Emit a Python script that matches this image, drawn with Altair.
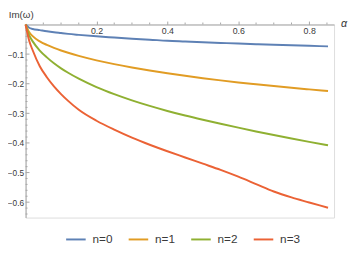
import altair as alt
import pandas as pd

# ---- data ----
alpha = [0, 0.01, 0.02, 0.04, 0.06, 0.08, 0.1, 0.12, 0.15, 0.2, 0.25, 0.3, 0.35,
         0.4, 0.45, 0.5, 0.55, 0.6, 0.65, 0.7, 0.75, 0.8, 0.853]
n0 = [0, -0.011, -0.015, -0.019, -0.023, -0.0263, -0.029, -0.0317, -0.035, -0.040, -0.044,
      -0.0478, -0.0512, -0.055, -0.0575, -0.060, -0.0622, -0.0644, -0.0664, -0.0684, -0.0703,
      -0.0721, -0.0739]
n1 = [0, -0.0252, -0.0395, -0.057, -0.069, -0.0789, -0.0877, -0.0955, -0.106, -0.121, -0.1338,
      -0.145, -0.1551, -0.1645, -0.1733, -0.1813, -0.1887, -0.1956, -0.2019, -0.208, -0.2137,
      -0.2191, -0.2247]
n2 = [0, -0.036, -0.057, -0.088, -0.111, -0.131, -0.148, -0.163, -0.183, -0.2113, -0.2352,
      -0.2562, -0.275, -0.292, -0.3075, -0.3217, -0.3352, -0.3483, -0.3611, -0.3733, -0.3851,
      -0.3964, -0.408]
n3 = [0, -0.054, -0.087, -0.141, -0.178, -0.209, -0.235, -0.258, -0.288, -0.325, -0.355,
      -0.382, -0.406, -0.428, -0.449, -0.470, -0.491, -0.514, -0.539, -0.564, -0.584,
      -0.601, -0.619]
series_names = ["n=0", "n=1", "n=2", "n=3"]
series_colors = ["#5E81B5", "#E19C24", "#8FB032", "#EB6235"]

x_major = [0.2, 0.4, 0.6, 0.8]
x_minor = [0.05, 0.1, 0.15, 0.25, 0.3, 0.35, 0.45, 0.5, 0.55, 0.65, 0.7, 0.75, 0.85]
y_major = [-0.1, -0.2, -0.3, -0.4, -0.5, -0.6]
y_minor = [-0.02, -0.04, -0.06, -0.08, -0.12, -0.14, -0.16, -0.18, -0.22, -0.24, -0.26,
           -0.28, -0.32, -0.34, -0.36, -0.38, -0.42, -0.44, -0.46, -0.48, -0.52, -0.54,
           -0.56, -0.58, -0.62, -0.64]
x_title = "α"
y_title = "Im(ω)"
x_max = 0.87
y_min = -0.652

rows = []
for name, vals in zip(series_names, [n0, n1, n2, n3]):
    for a, v in zip(alpha, vals):
        rows.append({"alpha": a, "value": v, "n": name})
df = pd.DataFrame(rows)

FONT = "Liberation Sans"
AX = "#a6a6a6"
TXT = "#3a3a3a"

xscale = alt.Scale(domain=[0, x_max], nice=False, zero=False)
yscale = alt.Scale(domain=[y_min, 0], nice=False, zero=False)

xaxis = alt.Axis(orient="top", values=x_major, format=".1f", grid=False,
                 domainColor=AX, tickColor=AX, tickSize=3.5, labelFont=FONT,
                 labelFontSize=9, labelColor=TXT, labelBaseline="top",
                 labelPadding=-6, title=None)
yaxis = alt.Axis(orient="left", values=y_major, format=".1f", grid=False,
                 domainColor=AX, ticks=False, labelFont=FONT, labelFontSize=8.5,
                 labelColor=TXT, labelPadding=2, title=y_title, titleFont=FONT,
                 titleFontSize=10, titleFontWeight="normal", titleColor=TXT,
                 titleAngle=0, titleAlign="center", titleBaseline="middle",
                 titleX=-5, titleY=-10)

lines = alt.Chart(df).mark_line(strokeWidth=2, interpolate="monotone").encode(
    x=alt.X("alpha:Q", scale=xscale, axis=xaxis),
    y=alt.Y("value:Q", scale=yscale, axis=yaxis),
    color=alt.Color("n:N", scale=alt.Scale(domain=series_names, range=series_colors),
                    legend=alt.Legend(orient="none", direction="horizontal", columns=4,
                                      legendX=40.5, legendY=209, title=None,
                                      symbolType="stroke", symbolSize=400,
                                      symbolStrokeWidth=2, labelFont=FONT,
                                      labelFontSize=12, labelColor=TXT,
                                      labelOffset=6, columnPadding=12)),
    order="n:N",
)

xminor_df = pd.DataFrame({"alpha": x_minor})
ymaj_df = pd.DataFrame({"value": y_major})
ymin_df = pd.DataFrame({"value": y_minor})
xt_df = pd.DataFrame({"alpha": [x_max], "value": [0.0], "t": [x_title]})

xminor = alt.Chart(xminor_df).mark_rule(color=AX, strokeWidth=1).encode(
    x=alt.X("alpha:Q", scale=xscale, axis=xaxis), y=alt.value(0), y2=alt.value(-2))
ymaj = alt.Chart(ymaj_df).mark_rule(color=AX, strokeWidth=1).encode(
    y=alt.Y("value:Q", scale=yscale, axis=yaxis), x=alt.value(0), x2=alt.value(4))
ymin = alt.Chart(ymin_df).mark_rule(color=AX, strokeWidth=1).encode(
    y=alt.Y("value:Q", scale=yscale, axis=yaxis), x=alt.value(0), x2=alt.value(2))
xtitle = alt.Chart(xt_df).mark_text(align="left", baseline="middle", dx=7, dy=0,
                                    font=FONT, fontSize=11, fontStyle="italic",
                                    color=TXT).encode(
    x=alt.X("alpha:Q", scale=xscale, axis=xaxis),
    y=alt.Y("value:Q", scale=yscale, axis=yaxis),
    text="t:N")

chart = alt.layer(xminor, ymaj, ymin, lines, xtitle).properties(
    width=315.7, height=197.6,
    autosize=alt.AutoSizeParams(type="none"),
    padding={"left": 18, "top": 14, "right": 15.3, "bottom": 34.4},
).configure_view(stroke=None).configure(background="white")

chart.save("out.html", embed_options={"renderer": "svg", "actions": False})
